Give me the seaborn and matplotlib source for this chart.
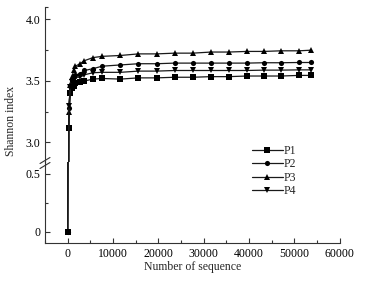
import numpy as np
import pandas as pd
import matplotlib
matplotlib.use('Agg')
import matplotlib.pyplot as plt
import seaborn as sns
from matplotlib.ticker import MultipleLocator, FixedLocator

# 데이터
seqs = [0, 250, 600, 950, 1300, 1700, 2700, 3700, 5600, 7600, 11600, 15600,
        19600, 23600, 27600, 31600, 35500, 39500, 43300, 47000, 51000, 53600]
p1 = [0, 3.12, 3.40, 3.44, 3.46, 3.48, 3.49, 3.50, 3.515, 3.52, 3.515, 3.525,
      3.525, 3.53, 3.53, 3.535, 3.535, 3.54, 3.54, 3.54, 3.545, 3.545]
p2 = [0, 3.28, 3.46, 3.50, 3.53, 3.545, 3.56, 3.585, 3.60, 3.62, 3.63, 3.64,
      3.64, 3.645, 3.645, 3.645, 3.645, 3.645, 3.648, 3.648, 3.65, 3.65]
p3 = [0, 3.25, 3.47, 3.53, 3.585, 3.62, 3.64, 3.665, 3.69, 3.70, 3.707, 3.72,
      3.72, 3.726, 3.726, 3.735, 3.735, 3.74, 3.74, 3.745, 3.745, 3.75]
p4 = [0, 3.30, 3.45, 3.49, 3.51, 3.53, 3.53, 3.55, 3.567, 3.57, 3.57, 3.58,
      3.58, 3.585, 3.585, 3.585, 3.585, 3.585, 3.588, 3.588, 3.59, 3.59]
groups = ['P1', 'P2', 'P3', 'P4']

df = pd.DataFrame({
    'seq': seqs * 4,
    'shannon': p1 + p2 + p3 + p4,
    'group': np.repeat(groups, len(seqs)),
})

sns.set_style('ticks')
plt.rcParams['font.family'] = ['Liberation Serif', 'DejaVu Serif']
plt.rcParams['font.size'] = 8.5

fig = plt.figure(figsize=(3.69, 2.86), dpi=100)
gs = fig.add_gridspec(2, 1, height_ratios=[155, 81], hspace=0,
                      left=0.122, right=0.921, top=0.975, bottom=0.15)
ax_top = fig.add_subplot(gs[0])
ax_bot = fig.add_subplot(gs[1], sharex=ax_top)

markers = {'P1': 's', 'P2': 'o', 'P3': '^', 'P4': 'v'}
for ax in (ax_top, ax_bot):
    ax.patch.set_visible(False)
    for g in groups:
        sub = df[df['group'] == g]
        sns.lineplot(data=sub, x='seq', y='shannon', marker=markers[g],
                     color='#1a1a1a', linewidth=0.9, markersize=3.7,
                     markeredgewidth=0, markerfacecolor='black',
                     ax=ax, label=g)
    ax.get_legend().remove()
    ax.set_xlim(-5000, 60000)
    ax.tick_params(direction='in', which='major', length=3.5, width=0.8,
                   colors='#333333', labelcolor='black', labelsize=8.5)
    ax.tick_params(direction='in', which='minor', length=2, width=0.8,
                   colors='#333333')
    for s in ax.spines.values():
        s.set_linewidth(0.8)
        s.set_color('#333333')
    ax.spines['right'].set_visible(False)
    ax.spines['top'].set_visible(False)

ax_top.set_ylim(2.84, 4.1)
ax_top.yaxis.set_major_locator(FixedLocator([3.0, 3.5, 4.0]))
ax_top.set_yticklabels(['3.0', '3.5', '4.0'])
ax_top.yaxis.set_minor_locator(FixedLocator([3.25, 3.75, 4.1]))
ax_top.spines['bottom'].set_visible(False)
ax_top.tick_params(axis='x', which='both', bottom=False, labelbottom=False)
ax_top.set_xlabel('')
ax_top.set_ylabel('Shannon index', fontsize=8.5)
ax_top.yaxis.set_label_coords(-0.095, 0.265)

ax_bot.set_ylim(-0.1, 0.6)
ax_bot.yaxis.set_major_locator(FixedLocator([0, 0.5]))
ax_bot.set_yticklabels(['0', '0.5'])
ax_bot.yaxis.set_minor_locator(FixedLocator([0.25]))
ax_bot.xaxis.set_major_locator(FixedLocator([0, 10000, 20000, 30000, 40000, 50000, 60000]))
ax_bot.xaxis.set_minor_locator(MultipleLocator(5000))
ax_bot.set_xlabel('Number of sequence', fontsize=8.5, labelpad=1)
ax_bot.set_ylabel('')

# 축 끊김 표시
kw = dict(transform=fig.transFigure, color='#333333', lw=0.8, clip_on=False)
x0 = 45 / 369
for dy in (-2.5, 2.5):
    yc = 1 - (163 + dy) / 286
    fig.add_artist(plt.Line2D([x0 - 5 / 369, x0 + 5 / 369],
                              [yc - 3 / 286, yc + 3 / 286], **kw))

handles, labels = ax_top.get_legend_handles_labels()
fig.legend(handles, labels, loc='upper left',
           bbox_to_anchor=(246 / 369, 1 - 139 / 286),
           frameon=False, handlelength=2.6, handletextpad=0.1,
           labelspacing=0.12, fontsize=8.5, borderpad=0)

fig.savefig('out.png', dpi=100)
